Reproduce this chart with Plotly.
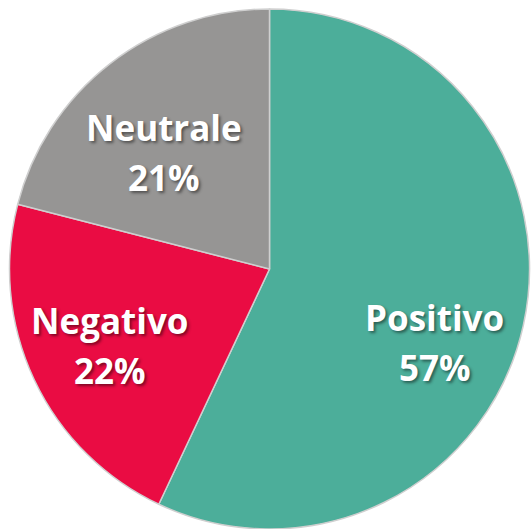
import math
import plotly.graph_objects as go

labels = ["Positivo", "Negativo", "Neutrale"]
values = [57, 22, 21]
colors = ["#4CAE9A", "#EA0C43", "#969594"]

# layout / style settings (not data)
W, H = 531, 529
M = dict(l=9, r=1, t=9, b=0)
label_radius = 0.66          # fraction of pie radius for label centre
label_nudge_px = {"Positivo": (-2, -36), "Negativo": (-4, -3), "Neutrale": (0, -19)}
line_gap_px = 25

fig = go.Figure(go.Pie(
    labels=labels,
    values=values,
    sort=False,
    direction="clockwise",
    rotation=0,
    marker=dict(colors=colors, line=dict(color="#cfcfcf", width=1.5)),
    textinfo="none",
    showlegend=False,
    hoverinfo="label+percent",
))

area_w = W - M["l"] - M["r"]
area_h = H - M["t"] - M["b"]
R = min(area_w, area_h) / 2
total = sum(values)
font = dict(family="Open Sans", size=35, color="white", weight="bold",
            shadow="2px 2px 3px rgba(0,0,0,0.45)")
cum = 0
for lab, v in zip(labels, values):
    mid = (cum + v / 2) / total * 2 * math.pi
    cum += v
    x = 0.5 + label_radius * R * math.sin(mid) / area_w
    y = 0.5 + label_radius * R * math.cos(mid) / area_h
    dx, dy = label_nudge_px[lab]
    pct = f"{round(v / total * 100)}%"
    for txt, off in ((lab, line_gap_px), (pct, -line_gap_px)):
        fig.add_annotation(x=x, y=y, xref="paper", yref="paper", text=txt,
                           showarrow=False, font=font,
                           xanchor="center", yanchor="middle",
                           xshift=dx, yshift=dy + off)

fig.update_layout(
    width=W, height=H,
    margin=M,
    paper_bgcolor="white",
)
fig.write_html("out.html",
               config={"displayModeBar": False},
               post_script="document.body.style.margin='0';document.body.style.overflow='hidden';")
